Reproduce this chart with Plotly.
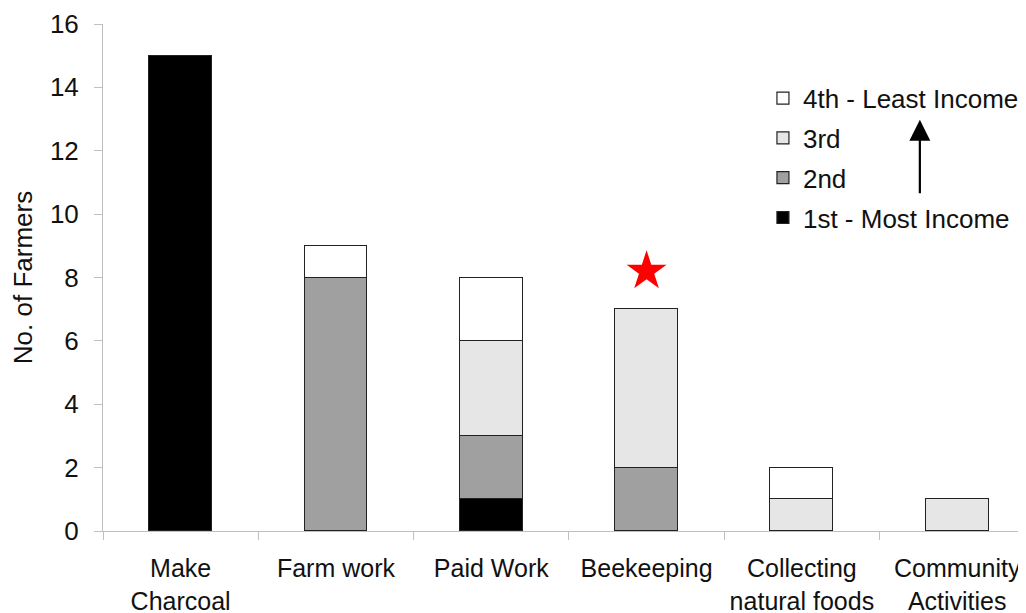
import plotly.graph_objects as go

categories = ["Make<br>Charcoal", "Farm work", "Paid Work", "Beekeeping",
              "Collecting<br>natural foods", "Community<br>Activities"]
first_most = [15, 0, 1, 0, 0, 0]
second = [0, 8, 2, 2, 0, 0]
third = [0, 0, 3, 5, 1, 1]
fourth_least = [0, 1, 2, 0, 1, 0]
star_category = "Beekeeping"
star_value = 8.2

series = [
    ("1st - Most Income", first_most, "#000000"),
    ("2nd", second, "#a0a0a0"),
    ("3rd", third, "#e6e6e6"),
    ("4th - Least Income", fourth_least, "#ffffff"),
]

fig = go.Figure()
for i, (name, vals, col) in enumerate(series):
    fig.add_trace(go.Bar(
        x=categories, y=vals, name=name, legendgroup=f"g{i}",
        legendrank=10 - i,
        marker=dict(color=col, line=dict(color="#222222", width=1.2)),
        width=0.405,
    ))

fig.add_trace(go.Scatter(
    x=[star_category], y=[star_value], mode="markers",
    marker=dict(symbol="star", size=30, color="#ff0000", line=dict(width=0)),
    showlegend=False,
))

fig.add_annotation(
    xref="paper", yref="paper", x=0.885, y=0.811,
    axref="pixel", ayref="pixel", ax=0, ay=75,
    showarrow=True, arrowhead=2, arrowsize=1.9, arrowwidth=2.2,
    arrowcolor="#000000", text="",
)

fig.update_layout(
    width=1018, height=605,
    margin=dict(l=95, r=0, t=16, b=82),
    barmode="stack",
    plot_bgcolor="white", paper_bgcolor="white",
    font=dict(family="Arial, Liberation Sans, sans-serif", size=26, color="#111111"),
    legend=dict(
        traceorder="grouped", tracegroupgap=3,
        x=0.715, y=0.9, xanchor="left", yanchor="top",
        font=dict(size=26), bgcolor="rgba(0,0,0,0)", itemwidth=30,
    ),
    xaxis=dict(
        range=[-0.5, 5.443], showline=True, linecolor="#bfbfbf", linewidth=1,
        ticks="outside", tickson="boundaries", ticklen=8, tickcolor="#bfbfbf",
        showgrid=False, zeroline=False, tickfont=dict(size=25), automargin=False,
        ticklabelstandoff=15, tickangle=0,
    ),
    yaxis=dict(
        range=[0, 16], dtick=2, showline=True, linecolor="#bfbfbf", linewidth=1,
        ticks="outside", ticklen=8, tickcolor="#bfbfbf",
        showgrid=False, zeroline=False, tickfont=dict(size=26), automargin=False,
        ticklabelstandoff=10,
        title=dict(text="No. of Farmers", font=dict(size=26), standoff=13),
    ),
    bargap=0,
)

fig.write_html("out.html")
